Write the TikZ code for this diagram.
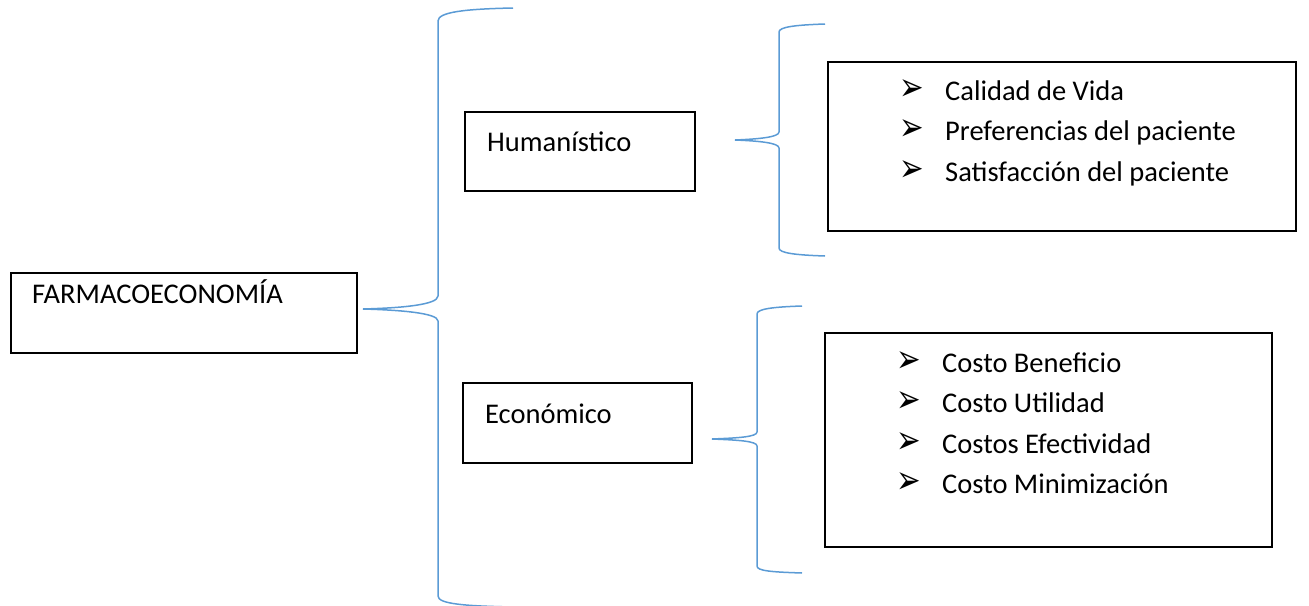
\documentclass[tikz,border=0pt]{standalone}
\usepackage{fontspec}
\setmainfont{Carlito}
\newfontfamily\symfont{DejaVu Sans}
\definecolor{braceblue}{HTML}{5B9BD5}
\newcommand{\arrowbullet}{\scalebox{1.05}[1.4]{➢}}
\begin{document}
\begin{tikzpicture}[x=1pt,y=-1pt,
  box/.style={draw=black,line width=1.3pt,inner sep=0pt},
  brace/.style={draw=braceblue,line width=1.5pt},
  lbl/.style={anchor=base west,inner sep=0pt,font=\fontsize{28.5}{34}\selectfont},
  bul/.style={anchor=west,inner sep=0pt,font=\symfont\fontsize{28}{32}\selectfont}]
\useasboundingbox (0,0) rectangle (1309,605);

% boxes
\path[box] (11,273) rectangle (357,353);
\node[lbl] (farma) at (32,303) {FARMACOECONOMÍA};

\path[box] (465,112) rectangle (695,191);
\node[lbl] (human) at (487,151) {Humanístico};

\path[box] (463,383) rectangle (692,463);
\node[lbl] (econ) at (485,423) {Económico};

\path[box] (828,62) rectangle (1296,231);
\node[bul] (h1b) at (899,90) {\arrowbullet};
\node[lbl] (h1) at (945,100) {Calidad de Vida};
\node[bul] (h2b) at (899,130.5) {\arrowbullet};
\node[lbl] (h2) at (945,140.5) {Preferencias del paciente};
\node[bul] (h3b) at (899,171) {\arrowbullet};
\node[lbl] (h3) at (945,181) {Satisfacción del paciente};

\path[box] (825,333) rectangle (1272,547);
\node[bul] (e1b) at (896,362) {\arrowbullet};
\node[lbl] (e1) at (942,372) {Costo Beneficio};
\node[bul] (e2b) at (896,402.5) {\arrowbullet};
\node[lbl] (e2) at (942,412.5) {Costo Utilidad};
\node[bul] (e3b) at (896,443) {\arrowbullet};
\node[lbl] (e3) at (942,453) {Costos Efectividad};
\node[bul] (e4b) at (896,483.5) {\arrowbullet};
\node[lbl] (e4) at (942,493.5) {Costo Minimización};

% curly braces
\coordinate (tipA) at (363,309);
\draw[brace] (513,8) .. controls (465,9) and (438,12) .. (438,21) -- (438,296)
  .. controls (438,305) and (400,308) .. (tipA)
  .. controls (400,310) and (438,313) .. (438,321) -- (438,596)
  .. controls (438,604) and (465,606) .. (513,607);

\coordinate (tipB) at (735,140);
\draw[brace] (825,24) .. controls (795,25) and (779,27) .. (779,32) -- (779,132)
  .. controls (779,137) and (760,139) .. (tipB)
  .. controls (760,141) and (779,143) .. (779,148) -- (779,248)
  .. controls (779,253) and (795,255) .. (825,256);

\coordinate (tipC) at (712,439);
\draw[brace] (802,306) .. controls (772,307) and (757,309) .. (757,314) -- (757,432)
  .. controls (757,437) and (737,438) .. (tipC)
  .. controls (737,440) and (757,441) .. (757,446) -- (757,566)
  .. controls (757,571) and (772,572) .. (802,573);
\end{tikzpicture}
\end{document}
